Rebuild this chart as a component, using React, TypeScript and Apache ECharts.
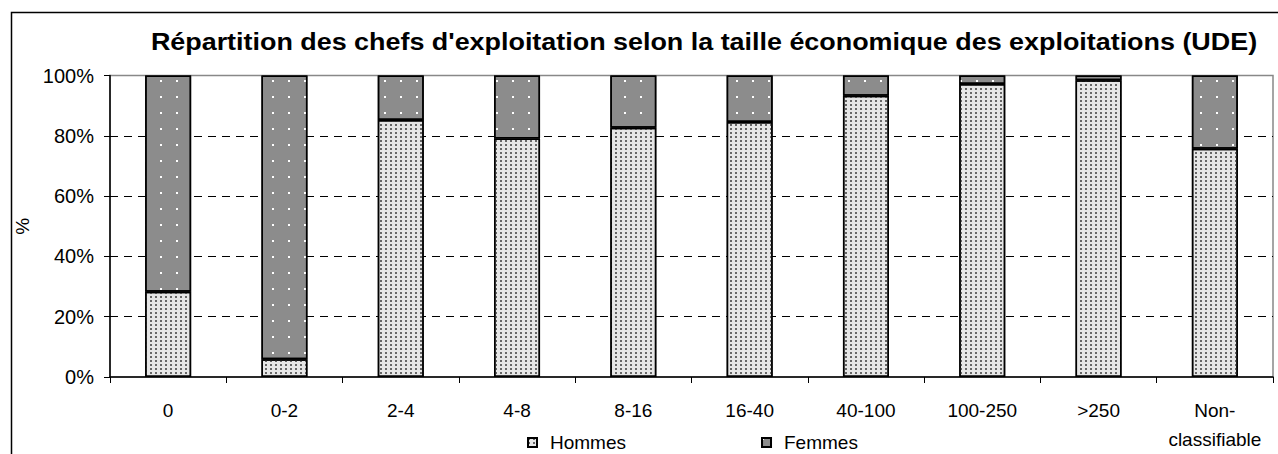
import React, { useEffect, useRef } from "react";
import * as echarts from "echarts";

const categories = ["0", "0-2", "2-4", "4-8", "8-16", "16-40", "40-100", "100-250", ">250", "Non-\nclassifiable"];
const hommes = [28.3, 5.9, 85.2, 79.1, 82.7, 84.6, 93.3, 97.2, 98.4, 75.7];
const femmes = [71.7, 94.1, 14.8, 20.9, 17.3, 15.4, 6.7, 2.8, 1.6, 24.3];
const yTicks = [0, 20, 40, 60, 80, 100];
const titleText = "Répartition des chefs d'exploitation selon la taille économique des exploitations (UDE)";

const FONT = "'Liberation Sans', Arial, sans-serif";

export default function App() {
  const ref = useRef<HTMLDivElement>(null);
  useEffect(() => {
    document.body.style.margin = "0";
    const chart = echarts.init(ref.current!, null, { renderer: "svg" });
    chart.setOption({
      animation: false,
      backgroundColor: "#ffffff",
      graphic: [
        {
          type: "rect",
          shape: { x: 11.5, y: 12.5, width: 1300, height: 500 },
          style: { fill: "none", stroke: "#000", lineWidth: 1.5 },
          silent: true,
          z: 0,
        },
        {
          type: "text",
          x: 704,
          y: 42,
          scaleX: 1.17,
          style: {
            text: titleText,
            font: "bold 23px " + FONT,
            fill: "#000",
            align: "center",
            verticalAlign: "middle",
          },
          silent: true,
          z: 10,
        },
      ],
      legend: {
        left: 522,
        top: 428,
        itemWidth: 9,
        itemHeight: 9,
        itemGap: 135,
        icon: "rect",
        textStyle: { fontFamily: FONT, fontSize: 19, color: "#000", padding: [0, 0, 0, 8] },
        data: ["Hommes", "Femmes"],
      },
      grid: {
        left: 110,
        right: 5,
        top: 75.5,
        bottom: 75.5,
        show: true,
        borderColor: "#888",
        borderWidth: 1.5,
      },
      xAxis: {
        type: "category",
        data: categories,
        axisLine: { lineStyle: { color: "#000", width: 1.5 } },
        axisTick: { show: true, length: 6, lineStyle: { color: "#000" } },
        axisLabel: { interval: 0, fontFamily: FONT, fontSize: 19, color: "#000", margin: 19, lineHeight: 29 },
      },
      yAxis: {
        type: "value",
        min: 0,
        max: 100,
        interval: 20,
        name: "%",
        nameLocation: "middle",
        nameGap: 72,
        nameRotate: 90,
        nameTextStyle: { fontFamily: FONT, fontSize: 19, color: "#000" },
        axisLine: { show: true, lineStyle: { color: "#000", width: 1.5 } },
        axisTick: { show: true, length: 6, lineStyle: { color: "#000" } },
        axisLabel: {
          fontFamily: FONT,
          fontSize: 20,
          color: "#000",
          margin: 16,
          formatter: (v: number) => (yTicks.includes(v) ? v + "%" : ""),
        },
        splitLine: {
          show: true,
          showMaxLine: false,
          showMinLine: false,
          lineStyle: { color: "#000", type: [8, 6], width: 1 },
        },
      },
      series: [
        {
          name: "Hommes",
          type: "bar",
          stack: "total",
          barWidth: 46,
          data: hommes,
          itemStyle: {
            color: "#e6e6e6",
            borderColor: "#000",
            borderWidth: 1.5,
            decal: {
              symbol: "rect",
              symbolSize: 1,
              color: "#666",
              dashArrayX: [2, 3],
              dashArrayY: [2, 2],
            },
          },
        },
        {
          name: "Femmes",
          type: "bar",
          stack: "total",
          barWidth: 46,
          data: femmes,
          itemStyle: {
            color: "#8c8c8c",
            borderColor: "#000",
            borderWidth: 1.5,
            decal: {
              symbol: "rect",
              symbolSize: 1,
              color: "#ffffff",
              dashArrayX: [2, 14],
              dashArrayY: [2, 14],
            },
          },
        },
      ],
    });
    return () => chart.dispose();
  }, []);
  return <div ref={ref} style={{ position: "absolute", left: 0, top: 0, width: 1278, height: 454 }} />;
}
